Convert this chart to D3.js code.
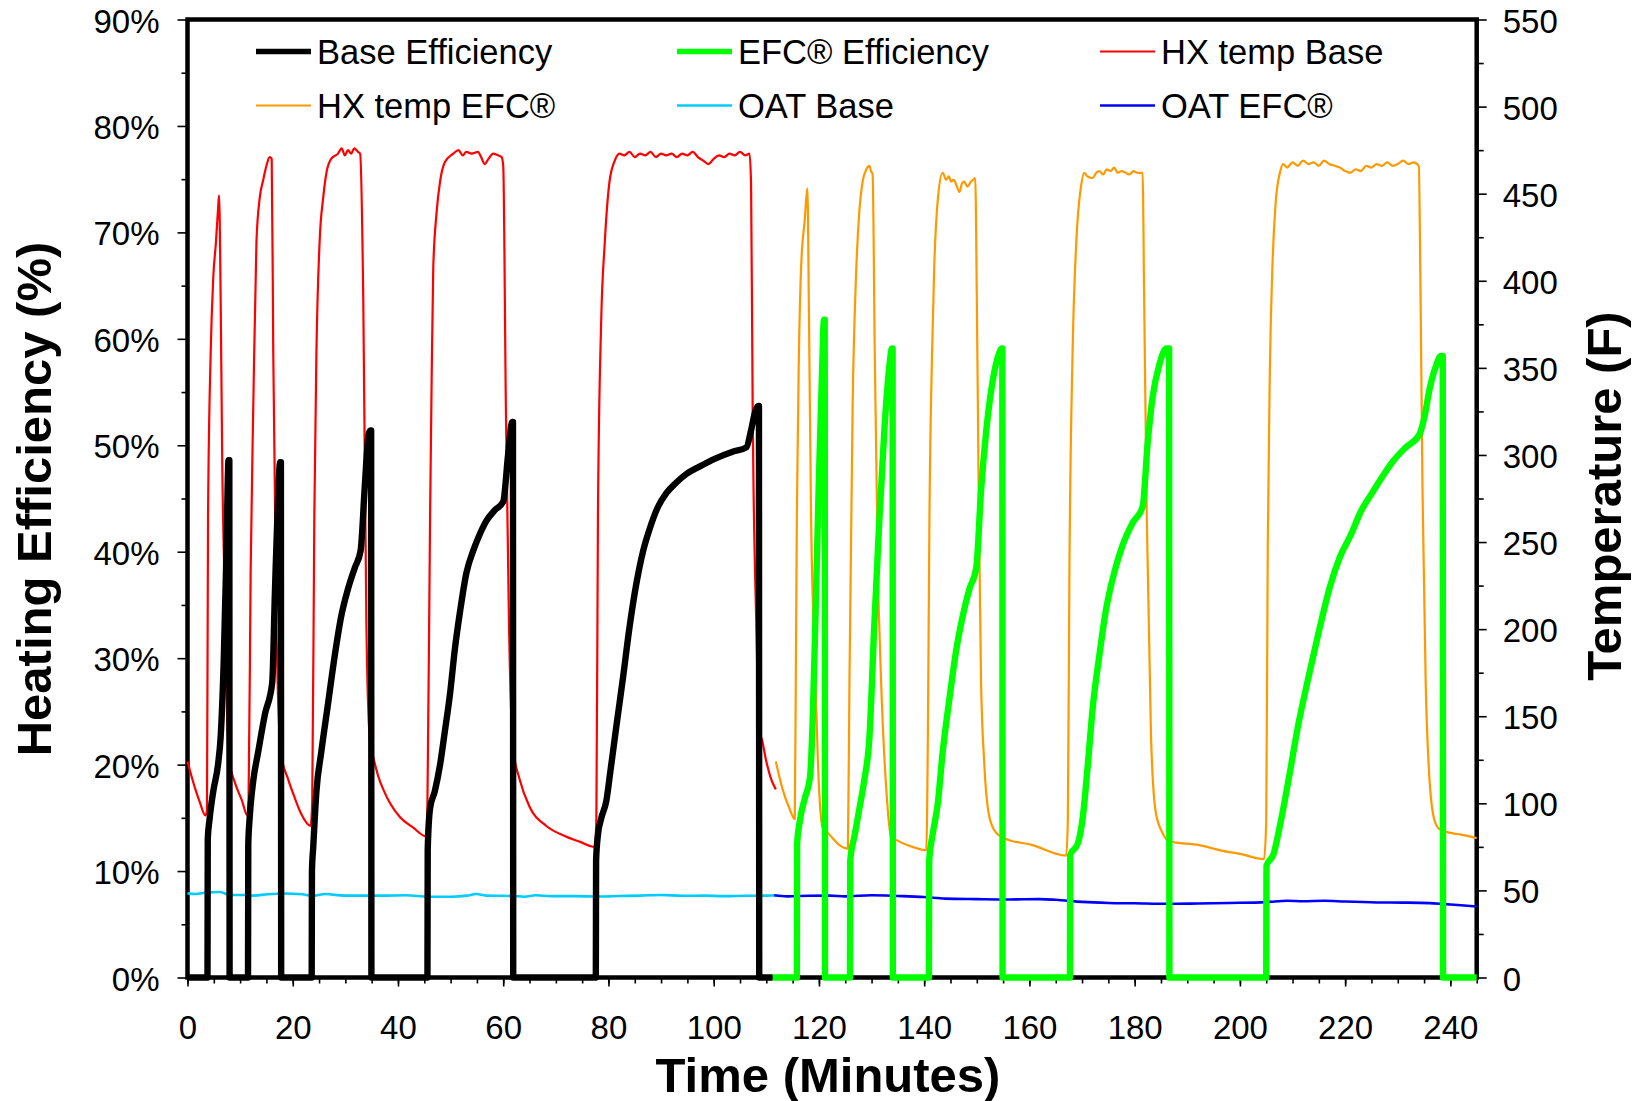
<!DOCTYPE html>
<html><head><meta charset="utf-8">
<script src="https://cdn.jsdelivr.net/npm/d3@7"></script>
<style>
html,body{margin:0;padding:0;background:#fff;}
svg{display:block;}
text{font-family:"Liberation Sans", Arial, sans-serif; fill:#000;}
</style></head><body>
<svg id="chart" width="1642" height="1101"></svg>
<script>
// ---------------- DATA ----------------
const xTickValues = [0,20,40,60,80,100,120,140,160,180,200,220,240];
const effTickValues = [0,10,20,30,40,50,60,70,80,90];
const tempTickValues = [0,50,100,150,200,250,300,350,400,450,500,550];
const seriesNames = ["Base Efficiency","EFC® Efficiency","HX temp Base","HX temp EFC®","OAT Base","OAT EFC®"];
const xTitle = "Time (Minutes)";
const yLeftTitle = "Heating Efficiency (%)";
const yRightTitle = "Temperature (F)";

// [minute, efficiency %]
const baseEfficiency = [
 [0,0],[3.8,0],[3.85,13],[4.2,14.9],[4.9,17.5],[5.8,20],[6.3,22.6],[6.9,30],[7.4,40],[7.8,48.6],[7.95,48.6],[8.0,0],
 [11.5,0],[11.55,12.5],[11.8,14.9],[12.5,18.5],[13.4,21.1],[14.7,24.7],[16.1,27.7],[16.6,36],[17.2,45],[17.6,48.4],[17.75,48.4],[17.8,0],
 [23.6,0],[23.65,10],[23.9,12.3],[24.5,17.5],[25.4,21.1],[26.7,25.7],[28,30.3],[29.2,33.9],[30.5,36.5],[31.8,38.5],[32.9,40.1],[33.7,46.2],[34.4,51],[34.75,51.4],[34.9,51.4],[34.95,0],
 [45.6,0],[45.65,12],[46.1,15.9],[47,17.5],[48,20],[48.9,23.1],[49.9,26.7],[50.8,30.8],[51.8,34.4],[53,38],[54.3,40.1],[55.5,41.6],[56.8,42.9],[58.4,43.9],[60,44.7],[60.9,49],[61.5,51.8],[61.75,52.2],[61.85,52.2],[61.9,0],
 [77.6,0],[77.65,11],[78,13.4],[78.6,14.9],[79.6,16.6],[80.4,19.5],[81.5,23.6],[82.8,28.3],[84,32.9],[85.3,37],[86.6,40.1],[87.8,42.1],[89.4,44.2],[91,45.5],[92.9,46.5],[94.8,47.3],[97.3,48],[100.5,48.8],[103.6,49.4],[106.2,49.8],[107.1,51.4],[107.9,53.2],[108.45,53.7],[108.6,53.7],[108.65,0],[111.2,0]
];
const efcEfficiency = [
 [111.2,0],[115.8,0],[115.85,12.5],[116.3,14.5],[117.3,16.8],[118.3,18.8],[118.8,24],[119.4,35],[120.0,47],[120.6,57],[120.95,61.8],[121.1,61.8],[121.15,0],
 [125.9,0],[125.95,11],[126.8,13.4],[127.7,15.9],[128.6,18.5],[129.6,22.6],[130.5,32.9],[131.5,43.2],[132.5,52],[133.4,57.5],[133.85,59.1],[134.0,59.1],[134.05,0],
 [140.9,0],[140.95,11],[141.6,13.4],[142.6,16.4],[143.5,21.1],[144.8,26.2],[146.1,30.8],[147.3,33.9],[148.6,36.5],[149.9,38.5],[150.8,45.7],[151.8,51.4],[153,56],[154.2,58.6],[154.7,59.1],[154.85,59.1],[154.9,0],
 [167.7,0],[167.75,11.5],[169.2,12.6],[170.1,14.9],[171.1,20],[172,25.2],[173.3,30.3],[174.5,34.4],[176.1,38],[177.7,40.6],[179.6,42.7],[181.5,44.2],[182.5,50.4],[183.4,54.5],[184.7,57.6],[186.0,59.1],[186.55,59.1],[186.6,0],
 [205.0,0],[205.05,10.5],[206.4,11.6],[207.5,14],[209.4,19],[211,23.5],[213.3,28.8],[215,32.5],[217.1,36.7],[219,39.5],[221.1,41.6],[223,43.8],[225.1,45.5],[227,47],[229.1,48.5],[231.5,49.8],[234.1,51],[235,52.5],[236.1,55.4],[237.3,57.5],[238.2,58.4],[238.55,58.4],[238.6,0],[245,0]
];
// [minute, temperature F]
const hxTempBase = [
 [0,124],[1.4,109],[2.3,101],[3.4,93],[3.7,96],[3.9,264],[4.4,358],[4.9,402],[5.4,422],[5.8,441],[6.0,449],[6.3,390],[6.6,296],[7.1,218],[7.7,134],[8.0,124],[9,112],[10.3,102],[11.4,93],
 [11.6,101],[12.0,233],[12.5,328],[13.1,422],[13.7,447],[14.4,458],[15.0,466],[15.6,471],[16.0,470],[16.3,358],[16.9,202],[17.5,139],[17.8,128],[19.1,114],[20.4,103],[21.6,94],[23.4,87],
 [23.7,101],[24.1,265],[24.5,359],[25.1,422],[25.8,448],[26.4,462],[27.3,470],[28.6,473],[29.3,476],[29.9,472],[30.5,475],[31.1,473],[31.7,476],[32.4,474],[32.8,473],[33.4,390],[34.0,202],[34.6,139],[34.9,133],[36.2,116],[37.5,106],[38.5,100],[40.4,92],[42.9,86],[45.4,81],
 [45.6,101],[46.1,265],[46.4,344],[46.7,407],[47.3,438],[48,457],[48.9,468],[50.5,473],[51.5,475],[52.3,472],[53,474],[54,473],[55.2,474],[55.8,471],[56.5,467],[57.2,470],[58.1,473],[59,472],[59.7,471],[60,466],[60.5,328],[61.1,202],[61.9,131],[63.1,114],[65,98],[68.2,87],[71.9,81],[74.5,78],[77.4,75],
 [77.7,91],[78,265],[78.6,375],[79.3,422],[80.2,457],[81.2,469],[82.1,473],[83,472],[84,474],[85,471],[86,473],[87,472],[88,474],[89,471],[90,473],[91,472],[92,473],[93,471],[94,473],[95,472],[96,474],[97,471],[98,469],[99,467],[100,470],[101,472],[102,471],[103,473],[104,472],[105,474],[106,472],[106.8,473],
 [107.1,456],[107.4,328],[108.1,202],[108.7,139],[109,138],[110,124],[110.9,114],[111.8,108]
];
const hxTempEfc = [
 [111.8,124],[113.1,108],[114.4,97],[115.4,91],[115.6,171],[115.8,265],[116.2,359],[116.6,407],[117.3,435],[117.8,453],[118.1,381],[118.5,265],[119.2,186],[119.8,124],[120.7,86],[121.4,84],[122.6,80],[123.9,76],[125.5,74],
 [125.8,171],[126.4,328],[127.1,407],[127.7,441],[128.3,457],[129,464],[129.6,466],[129.9,463],[130.2,461],[130.6,361],[131.2,234],[131.8,171],[132.8,108],[133.7,81],[135.3,78],[137.8,75],[140.4,73],
 [140.7,139],[141,265],[141.5,359],[141.9,407],[142.6,447],[143.5,462],[144.2,458],[144.7,460],[145.1,457],[145.6,458],[146.1,455],[146.7,451],[147.2,456],[147.6,457],[148.2,454],[148.9,457],[149.3,458],[149.7,459],[150,391],[150.4,265],[150.8,171],[151.4,124],[152.4,92],[153.7,83],[155.2,80],[160.6,76],[167,70],
 [167.3,91],[167.6,234],[168.2,359],[168.9,422],[169.8,454],[170.4,462],[171,460],[172,459],[172.7,462],[173.3,463],[174,461],[174.7,464],[175.4,463],[176.1,465],[176.8,462],[177.5,463],[178.3,462],[179,461],[179.8,463],[180.5,462],[181.5,462],[181.8,391],[182.3,265],[183.1,139],[184,95],[185.3,83],[186.6,78],[192.3,76],[196.3,73],[200,71],[204.6,68],
 [205,90],[205.3,250],[205.7,350],[206.2,410],[206.8,445],[207.6,462],[208.2,467],[209,465],[210,468],[211,466],[212,469],[213,467],[214,468],[215,466],[216,469],[217,467],[218,466],[219,465],[220,463],[221,462],[222,464],[223,463],[224,466],[225,465],[226,467],[227,466],[228,468],[229,466],[230,467],[231,469],[232,467],[233,468],[234,466],
 [234.3,400],[234.7,280],[235.3,170],[236,115],[237,90],[238,85],[240,83],[242,82],[245,80]
];
const oatBase = [
 [0,48.3],[1.5,47.9],[3.6,48.8],[6.2,49.1],[8,47.4],[10.9,47.4],[12.4,47],[15.3,47.8],[18.2,48.2],[21.8,47.8],[23.6,46.8],[26.2,47.9],[29.8,47],[37.1,47],[41.5,47.2],[45.8,46.4],[50.2,46.4],[53.1,47],[54.9,47.9],[56.7,47],[61.8,46.8],[64,46.4],[66.2,47.2],[69.1,46.7],[73.5,46.7],[78.4,46.5],[82,46.8],[86,47],[90,47.4],[94,46.9],[98,47],[102,46.7],[106,46.9],[110,47.0],[112,47.2]
];
const oatEfc = [
 [111.5,47.2],[114,46.6],[118,46.9],[122,47],[125,46.6],[130,47.2],[135,46.8],[140,46.2],[144,45.3],[150,45],[156,44.8],[162,45],[165,44.6],[170,43.4],[175,42.8],[180,42.6],[186,42.3],[192,42.5],[198,42.8],[205,43.3],[209,44.1],[212,43.8],[216,44.1],[220,43.6],[226,43.1],[231,43],[236,42.7],[239,42.1],[242,41.5],[245,40.8]
];

// ---------------- STYLE / LAYOUT ----------------
const plot = {left:187.5, right:1476.7, top:19.5, bottom:977.5};
const styles = [
 {color:"#000000", width:6.4, axis:"left"},
 {color:"#00FF00", width:6.4, axis:"left"},
 {color:"#FF0000", width:2.2, axis:"right"},
 {color:"#FF9900", width:2.2, axis:"right"},
 {color:"#00CCFF", width:2.6, axis:"right"},
 {color:"#0000FF", width:2.6, axis:"right"}
];
const seriesData = [baseEfficiency, efcEfficiency, hxTempBase, hxTempEfc, oatBase, oatEfc];

const svg = d3.select("#chart");
const x = d3.scaleLinear().domain([0,245]).range([plot.left, plot.right]);
const yE = d3.scaleLinear().domain([0,90]).range([plot.bottom, plot.top]);
const yT = d3.scaleLinear().domain([0,550]).range([plot.bottom, plot.top]);

function styleAxis(g, fs){
  g.attr("font-family", null).attr("font-size", null);
  g.select(".domain").remove();
  g.selectAll(".tick line").attr("stroke","#000").attr("stroke-width",1.6);
  g.selectAll(".tick text").style("font-size", fs+"px").attr("fill","#000");
}

// ticks
const gxm = svg.append("g").attr("transform",`translate(0,${plot.bottom})`)
  .call(d3.axisBottom(x).tickValues(d3.range(0,246,5)).tickSize(6).tickFormat(""));
styleAxis(gxm,33);
const gx = svg.append("g").attr("transform",`translate(0,${plot.bottom})`)
  .call(d3.axisBottom(x).tickValues(xTickValues).tickSize(9).tickPadding(29).tickFormat(d3.format("d")));
styleAxis(gx,33);

const gym = svg.append("g").attr("transform",`translate(${plot.left},0)`)
  .call(d3.axisLeft(yE).tickValues(d3.range(5,90,10)).tickSize(6).tickFormat(""));
styleAxis(gym,33);
const gy = svg.append("g").attr("transform",`translate(${plot.left},0)`)
  .call(d3.axisLeft(yE).tickValues(effTickValues).tickSize(10).tickPadding(18).tickFormat(d=>d+"%"));
styleAxis(gy,33);
gy.selectAll(".tick text").attr("dy","0.38em");

const grm = svg.append("g").attr("transform",`translate(${plot.right},0)`)
  .call(d3.axisRight(yT).tickValues(d3.range(25,550,50)).tickSize(7).tickFormat(""));
styleAxis(grm,33);
const gr = svg.append("g").attr("transform",`translate(${plot.right},0)`)
  .call(d3.axisRight(yT).tickValues(tempTickValues).tickSize(10).tickPadding(16).tickFormat(d3.format("d")));
styleAxis(gr,33);
gr.selectAll(".tick text").attr("dy","0.38em");

// frame
svg.append("rect").attr("x",plot.left).attr("y",plot.top)
  .attr("width",plot.right-plot.left).attr("height",plot.bottom-plot.top)
  .attr("fill","none").attr("stroke","#000").attr("stroke-width",4.5);

// series: temperatures first, efficiencies on top
const drawOrder = [2,3,4,5,0,1];
drawOrder.forEach(i=>{
  const s = styles[i];
  const yy = s.axis==="left" ? yE : yT;
  const line = d3.line().curve(d3.curveMonotoneX).x(d=>x(d[0])).y(d=>yy(d[1]));
  svg.append("path").datum(seriesData[i]).attr("d",line)
    .attr("fill","none").attr("stroke",s.color).attr("stroke-width",s.width)
    .attr("stroke-linejoin","round").attr("stroke-linecap","butt");
});

// legend
const legendPos = [
 {lx:256,ty:51.5},{lx:677,ty:51.5},{lx:1100,ty:51.5},
 {lx:256,ty:105.5},{lx:677,ty:105.5},{lx:1100,ty:105.5}
];
seriesNames.forEach((name,i)=>{
  const p = legendPos[i], s = styles[i];
  svg.append("line").attr("x1",p.lx).attr("x2",p.lx+55).attr("y1",p.ty).attr("y2",p.ty)
    .attr("stroke",s.color).attr("stroke-width",Math.min(s.width,5.7));
  svg.append("text").attr("x",p.lx+61).attr("y",p.ty+12.5)
    .style("font-size","34.5px").text(name);
});

// titles
svg.append("text").attr("x",828).attr("y",1092).attr("text-anchor","middle")
  .style("font-size","49px").style("font-weight","bold").text(xTitle);
svg.append("text").attr("transform","translate(51,499) rotate(-90)").attr("text-anchor","middle")
  .style("font-size","49px").style("font-weight","bold").text(yLeftTitle);
svg.append("text").attr("transform","translate(1621,496) rotate(-90)").attr("text-anchor","middle")
  .style("font-size","49px").style("font-weight","bold").text(yRightTitle);
</script>
</body></html>
